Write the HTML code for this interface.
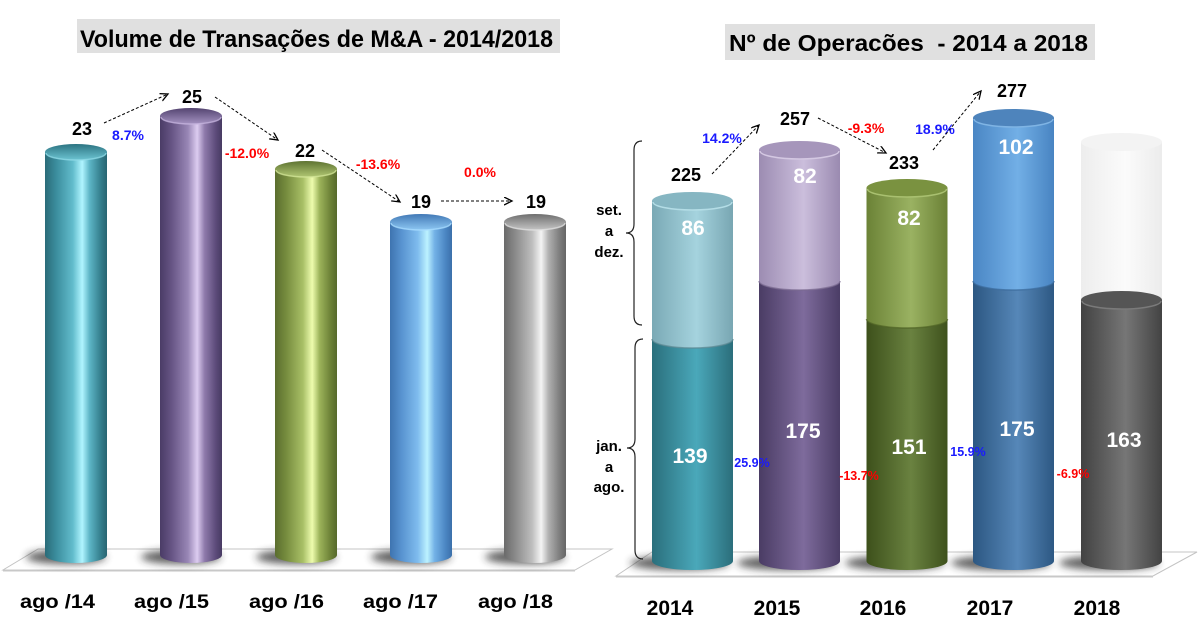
<!DOCTYPE html>
<html><head><meta charset="utf-8">
<style>
html,body{margin:0;padding:0;background:#fff;}
svg{display:block;}
text{font-family:"Liberation Sans",Arial,sans-serif;font-weight:bold;}
</style></head>
<body>
<svg width="1199" height="633" viewBox="0 0 1199 633" xmlns="http://www.w3.org/2000/svg">
<defs>
  <filter id="blur" x="-50%" y="-100%" width="200%" height="300%"><feGaussianBlur stdDeviation="4"/></filter>
  <marker id="ah" markerWidth="10" markerHeight="10" refX="8" refY="4" orient="auto" markerUnits="userSpaceOnUse">
    <path d="M0,0 L8,4 L0,8" fill="none" stroke="#000" stroke-width="1.3"/>
  </marker>
  <linearGradient id="gTeal" x1="0" x2="1" y1="0" y2="0">
    <stop offset="0" stop-color="#2a6b78"/><stop offset="0.18" stop-color="#3b8d9d"/>
    <stop offset="0.45" stop-color="#62bccc"/><stop offset="0.6" stop-color="#b0f4ff"/>
    <stop offset="0.72" stop-color="#5db5c6"/><stop offset="0.9" stop-color="#347e8c"/>
    <stop offset="1" stop-color="#286572"/></linearGradient>
  <linearGradient id="gPurp" x1="0" x2="1">
    <stop offset="0" stop-color="#4a3c66"/><stop offset="0.18" stop-color="#655383"/>
    <stop offset="0.45" stop-color="#9886b5"/><stop offset="0.6" stop-color="#dcccf0"/>
    <stop offset="0.72" stop-color="#8e7aab"/><stop offset="0.9" stop-color="#5c4b7a"/>
    <stop offset="1" stop-color="#473a62"/></linearGradient>
  <linearGradient id="gGreen" x1="0" x2="1">
    <stop offset="0" stop-color="#5a6d2e"/><stop offset="0.18" stop-color="#768c3e"/>
    <stop offset="0.45" stop-color="#a8bf66"/><stop offset="0.6" stop-color="#eefcae"/>
    <stop offset="0.72" stop-color="#9cb35a"/><stop offset="0.9" stop-color="#6b8036"/>
    <stop offset="1" stop-color="#56692b"/></linearGradient>
  <linearGradient id="gBlue" x1="0" x2="1">
    <stop offset="0" stop-color="#3e74b0"/><stop offset="0.18" stop-color="#5792cf"/>
    <stop offset="0.45" stop-color="#7fbcee"/><stop offset="0.6" stop-color="#bcf2ff"/>
    <stop offset="0.72" stop-color="#73b1e6"/><stop offset="0.9" stop-color="#4a85c2"/>
    <stop offset="1" stop-color="#3b70aa"/></linearGradient>
  <linearGradient id="gGray" x1="0" x2="1">
    <stop offset="0" stop-color="#6a6a6a"/><stop offset="0.18" stop-color="#8a8a8a"/>
    <stop offset="0.45" stop-color="#bdbdbd"/><stop offset="0.6" stop-color="#f4f4f4"/>
    <stop offset="0.72" stop-color="#b0b0b0"/><stop offset="0.9" stop-color="#7c7c7c"/>
    <stop offset="1" stop-color="#666"/></linearGradient>
  <linearGradient id="tTeal" x1="0" y1="0" x2="0" y2="1"><stop offset="0" stop-color="#2c7482"/><stop offset="1" stop-color="#6cc3d1"/></linearGradient>
  <linearGradient id="tPurp" x1="0" y1="0" x2="0" y2="1"><stop offset="0" stop-color="#544470"/><stop offset="1" stop-color="#a391c0"/></linearGradient>
  <linearGradient id="tGreen" x1="0" y1="0" x2="0" y2="1"><stop offset="0" stop-color="#5e7332"/><stop offset="1" stop-color="#b0c672"/></linearGradient>
  <linearGradient id="tBlue" x1="0" y1="0" x2="0" y2="1"><stop offset="0" stop-color="#4279b6"/><stop offset="1" stop-color="#8cc6f2"/></linearGradient>
  <linearGradient id="tGray" x1="0" y1="0" x2="0" y2="1"><stop offset="0" stop-color="#6e6e6e"/><stop offset="1" stop-color="#c4c4c4"/></linearGradient>
  <linearGradient id="r14a" x1="0" x2="1"><stop offset="0" stop-color="#2a6f7c"/><stop offset="0.55" stop-color="#4aa8ba"/><stop offset="1" stop-color="#2b6e7b"/></linearGradient>
  <linearGradient id="r14b" x1="0" x2="1"><stop offset="0" stop-color="#7aa9b5"/><stop offset="0.55" stop-color="#a5d3de"/><stop offset="1" stop-color="#78a6b2"/></linearGradient>
  <linearGradient id="r15a" x1="0" x2="1"><stop offset="0" stop-color="#4a3c64"/><stop offset="0.55" stop-color="#7e6b9c"/><stop offset="1" stop-color="#4b3d66"/></linearGradient>
  <linearGradient id="r15b" x1="0" x2="1"><stop offset="0" stop-color="#9c8cb2"/><stop offset="0.55" stop-color="#cbbedc"/><stop offset="1" stop-color="#9a8ab0"/></linearGradient>
  <linearGradient id="r16a" x1="0" x2="1"><stop offset="0" stop-color="#3d501b"/><stop offset="0.55" stop-color="#6a8240"/><stop offset="1" stop-color="#3e511c"/></linearGradient>
  <linearGradient id="r16b" x1="0" x2="1"><stop offset="0" stop-color="#6b8236"/><stop offset="0.55" stop-color="#9ab262"/><stop offset="1" stop-color="#6a8035"/></linearGradient>
  <linearGradient id="r17a" x1="0" x2="1"><stop offset="0" stop-color="#2c5782"/><stop offset="0.55" stop-color="#5687b8"/><stop offset="1" stop-color="#2d5883"/></linearGradient>
  <linearGradient id="r17b" x1="0" x2="1"><stop offset="0" stop-color="#4a86c4"/><stop offset="0.55" stop-color="#72afe6"/><stop offset="1" stop-color="#4884c2"/></linearGradient>
  <linearGradient id="r18a" x1="0" x2="1"><stop offset="0" stop-color="#424242"/><stop offset="0.55" stop-color="#767676"/><stop offset="1" stop-color="#434343"/></linearGradient>
  <linearGradient id="r18b" x1="0" x2="1"><stop offset="0" stop-color="#ededed"/><stop offset="0.55" stop-color="#fbfbfb"/><stop offset="1" stop-color="#ececec"/></linearGradient>
</defs>

<!-- ============ LEFT CHART ============ -->
<rect x="77" y="19" width="483" height="34" fill="#e0e0e0"/>
<text x="80" y="47" font-size="24" textLength="473" lengthAdjust="spacingAndGlyphs" fill="#000">Volume de Transações de M&amp;A - 2014/2018</text>

<polygon points="38,549 612,549 575,570 3,570" fill="#fff" stroke="#c4c4c4" stroke-width="1"/>
<line x1="3" y1="570.5" x2="575" y2="570.5" stroke="#c8c8c8" stroke-width="2"/>

<g filter="url(#blur)" fill="#2a2a2a" opacity="0.75">
  <ellipse cx="66" cy="557" rx="40" ry="7"/>
  <ellipse cx="181" cy="557" rx="40" ry="7"/>
  <ellipse cx="296" cy="557" rx="40" ry="7"/>
  <ellipse cx="411" cy="557" rx="40" ry="7"/>
  <ellipse cx="525" cy="557" rx="40" ry="7"/>
</g>

<path d="M45,152 L45,555 A31 8 0 0 0 107,555 L107,152 Z" fill="url(#gTeal)"/>
<ellipse cx="76" cy="152" rx="31" ry="8" fill="url(#tTeal)"/>
<path d="M46,153 A30 7 0 0 0 106,153" fill="none" stroke="#8fd9e6" stroke-width="1.5" opacity="0.8"/>

<path d="M160,116 L160,555 A31 8 0 0 0 222,555 L222,116 Z" fill="url(#gPurp)"/>
<ellipse cx="191" cy="116" rx="31" ry="8" fill="url(#tPurp)"/>
<path d="M161,117 A30 7 0 0 0 221,117" fill="none" stroke="#c4b3dd" stroke-width="1.5" opacity="0.8"/>

<path d="M275,169 L275,555 A31 8 0 0 0 337,555 L337,169 Z" fill="url(#gGreen)"/>
<ellipse cx="306" cy="169" rx="31" ry="8" fill="url(#tGreen)"/>
<path d="M276,170 A30 7 0 0 0 336,170" fill="none" stroke="#d2e597" stroke-width="1.5" opacity="0.8"/>

<path d="M390,222 L390,555 A31 8 0 0 0 452,555 L452,222 Z" fill="url(#gBlue)"/>
<ellipse cx="421" cy="222" rx="31" ry="8" fill="url(#tBlue)"/>
<path d="M391,223 A30 7 0 0 0 451,223" fill="none" stroke="#a8dcff" stroke-width="1.5" opacity="0.8"/>

<path d="M504,222 L504,555 A31 8 0 0 0 566,555 L566,222 Z" fill="url(#gGray)"/>
<ellipse cx="535" cy="222" rx="31" ry="8" fill="url(#tGray)"/>
<path d="M505,223 A30 7 0 0 0 565,223" fill="none" stroke="#e0e0e0" stroke-width="1.5" opacity="0.8"/>

<g font-size="18" fill="#000" text-anchor="middle">
  <text x="82" y="135">23</text>
  <text x="192" y="103">25</text>
  <text x="305" y="157">22</text>
  <text x="421" y="208">19</text>
  <text x="536" y="208">19</text>
</g>
<g font-size="14" text-anchor="middle">
  <text x="128" y="140" fill="#1a1aff">8.7%</text>
  <text x="247" y="158" fill="#ff0000">-12.0%</text>
  <text x="378" y="169" fill="#ff0000">-13.6%</text>
  <text x="480" y="177" fill="#ff0000">0.0%</text>
</g>
<g stroke="#000" stroke-width="1" stroke-dasharray="3,2" fill="none" marker-end="url(#ah)">
  <line x1="104" y1="123" x2="168" y2="94"/>
  <line x1="215" y1="97" x2="278" y2="140"/>
  <line x1="322" y1="150" x2="400" y2="202"/>
  <line x1="441" y1="201" x2="512" y2="201"/>
</g>
<g font-size="19" fill="#000">
  <text x="20" y="608" textLength="75" lengthAdjust="spacingAndGlyphs">ago /14</text>
  <text x="134" y="608" textLength="75" lengthAdjust="spacingAndGlyphs">ago /15</text>
  <text x="249" y="608" textLength="75" lengthAdjust="spacingAndGlyphs">ago /16</text>
  <text x="363" y="608" textLength="75" lengthAdjust="spacingAndGlyphs">ago /17</text>
  <text x="478" y="608" textLength="75" lengthAdjust="spacingAndGlyphs">ago /18</text>
</g>

<!-- ============ RIGHT CHART ============ -->
<rect x="725" y="24" width="370" height="36" fill="#e0e0e0"/>
<text x="729" y="51" font-size="23" textLength="359" lengthAdjust="spacingAndGlyphs" fill="#000" style="white-space:pre">Nº de Operacões  - 2014 a 2018</text>

<polygon points="652,552 1197,552 1153,576 616,576" fill="#fff" stroke="#c4c4c4" stroke-width="1"/>
<line x1="616" y1="576.5" x2="1153" y2="576.5" stroke="#c8c8c8" stroke-width="2"/>

<g filter="url(#blur)" fill="#2a2a2a" opacity="0.75">
  <ellipse cx="680" cy="563" rx="50" ry="7"/>
  <ellipse cx="787" cy="563" rx="50" ry="7"/>
  <ellipse cx="895" cy="563" rx="50" ry="7"/>
  <ellipse cx="1001" cy="563" rx="50" ry="7"/>
  <ellipse cx="1109" cy="563" rx="50" ry="7"/>
</g>

<path d="M652,339 L652,561 A40.5 9 0 0 0 733,561 L733,339 Z" fill="url(#r14a)"/>
<ellipse cx="692.5" cy="339" rx="40.5" ry="9" fill="#3d94a5"/>
<path d="M652,201 L652,339 A40.5 9 0 0 0 733,339 L733,201 Z" fill="url(#r14b)"/>
<path d="M652,339 A40.5 9 0 0 0 733,339" fill="none" stroke="#5d8792" stroke-width="1.5" opacity="0.7"/>
<ellipse cx="692.5" cy="201" rx="40.5" ry="9" fill="#86b6c2"/>
<path d="M653,202 A39.5 8 0 0 0 732,202" fill="none" stroke="#b4dde6" stroke-width="1.5"/>

<path d="M759,281 L759,561 A40.5 9 0 0 0 840,561 L840,281 Z" fill="url(#r15a)"/>
<ellipse cx="799.5" cy="281" rx="40.5" ry="9" fill="#6f5d8d"/>
<path d="M759,150 L759,281 A40.5 9 0 0 0 840,281 L840,150 Z" fill="url(#r15b)"/>
<path d="M759,281 A40.5 9 0 0 0 840,281" fill="none" stroke="#7a6b90" stroke-width="1.5" opacity="0.7"/>
<ellipse cx="799.5" cy="150" rx="40.5" ry="9" fill="#a696bb"/>
<path d="M760,151 A39.5 8 0 0 0 839,151" fill="none" stroke="#d4c8e2" stroke-width="1.5"/>

<path d="M866.5,319 L866.5,561 A40.5 9 0 0 0 947.5,561 L947.5,319 Z" fill="url(#r16a)"/>
<ellipse cx="907" cy="319" rx="40.5" ry="9" fill="#5a7030"/>
<path d="M866.5,188 L866.5,319 A40.5 9 0 0 0 947.5,319 L947.5,188 Z" fill="url(#r16b)"/>
<path d="M866.5,319 A40.5 9 0 0 0 947.5,319" fill="none" stroke="#4e6325" stroke-width="1.5" opacity="0.7"/>
<ellipse cx="907" cy="188" rx="40.5" ry="9" fill="#7a9240"/>
<path d="M867.5,189 A39.5 8 0 0 0 946.5,189" fill="none" stroke="#a9c070" stroke-width="1.5"/>

<path d="M973,281 L973,561 A40.5 9 0 0 0 1054,561 L1054,281 Z" fill="url(#r17a)"/>
<ellipse cx="1013.5" cy="281" rx="40.5" ry="9" fill="#44729f"/>
<path d="M973,118 L973,281 A40.5 9 0 0 0 1054,281 L1054,118 Z" fill="url(#r17b)"/>
<path d="M973,281 A40.5 9 0 0 0 1054,281" fill="none" stroke="#3a6a9a" stroke-width="1.5" opacity="0.7"/>
<ellipse cx="1013.5" cy="118" rx="40.5" ry="9" fill="#4e84bc"/>
<path d="M974,119 A39.5 8 0 0 0 1053,119" fill="none" stroke="#7fb4e4" stroke-width="1.5"/>

<path d="M1081,300 L1081,561 A40.5 9 0 0 0 1162,561 L1162,300 Z" fill="url(#r18a)"/>
<path d="M1081,142 L1081,300 L1162,300 L1162,142 Z" fill="url(#r18b)"/>
<ellipse cx="1121.5" cy="142" rx="40.5" ry="9" fill="#f3f3f3"/>
<ellipse cx="1121.5" cy="300" rx="40.5" ry="9" fill="#555"/>
<path d="M1082,301 A39.5 8 0 0 0 1161,301" fill="none" stroke="#7a7a7a" stroke-width="1.5"/>

<g fill="none" stroke="#222" stroke-width="1.2">
  <path d="M642,141 Q634,141 634,150 L634,224 Q634,233 626,233 Q634,233 634,242 L634,316 Q634,325 642,325"/>
  <path d="M643,339 Q635,339 635,348 L635,439 Q635,448 627,448 Q635,448 635,457 L635,550 Q635,559 643,559"/>
</g>
<g font-size="15" fill="#000" text-anchor="middle">
  <text x="609" y="215">set.</text>
  <text x="609" y="236">a</text>
  <text x="609" y="257">dez.</text>
  <text x="609" y="451">jan.</text>
  <text x="609" y="472">a</text>
  <text x="609" y="492">ago.</text>
</g>

<g font-size="18" fill="#000" text-anchor="middle">
  <text x="686" y="181">225</text>
  <text x="795" y="125">257</text>
  <text x="904" y="169">233</text>
  <text x="1012" y="97">277</text>
</g>
<g font-size="21" fill="#fff" text-anchor="middle">
  <text x="693" y="235">86</text>
  <text x="805" y="183">82</text>
  <text x="909" y="225">82</text>
  <text x="1016" y="154">102</text>
  <text x="690" y="463">139</text>
  <text x="803" y="438">175</text>
  <text x="909" y="454">151</text>
  <text x="1017" y="436">175</text>
  <text x="1124" y="447">163</text>
</g>
<g font-size="14" text-anchor="middle">
  <text x="722" y="143" fill="#1a1aff">14.2%</text>
  <text x="866" y="133" fill="#ff0000">-9.3%</text>
  <text x="935" y="134" fill="#1a1aff">18.9%</text>
</g>
<g font-size="12.5" text-anchor="middle">
  <text x="752" y="467" fill="#1a1aff">25.9%</text>
  <text x="859" y="480" fill="#ff0000">-13.7%</text>
  <text x="968" y="456" fill="#1a1aff">15.9%</text>
  <text x="1073" y="478" fill="#ff0000">-6.9%</text>
</g>
<g stroke="#000" stroke-width="1" stroke-dasharray="3,2" fill="none" marker-end="url(#ah)">
  <line x1="712" y1="174" x2="759" y2="125"/>
  <line x1="818" y1="118" x2="886" y2="153"/>
  <line x1="933" y1="150" x2="981" y2="91"/>
</g>
<g font-size="21" fill="#000" text-anchor="middle">
  <text x="670" y="615">2014</text>
  <text x="777" y="615">2015</text>
  <text x="883" y="615">2016</text>
  <text x="990" y="615">2017</text>
  <text x="1097" y="615">2018</text>
</g>
</svg>
</body></html>
